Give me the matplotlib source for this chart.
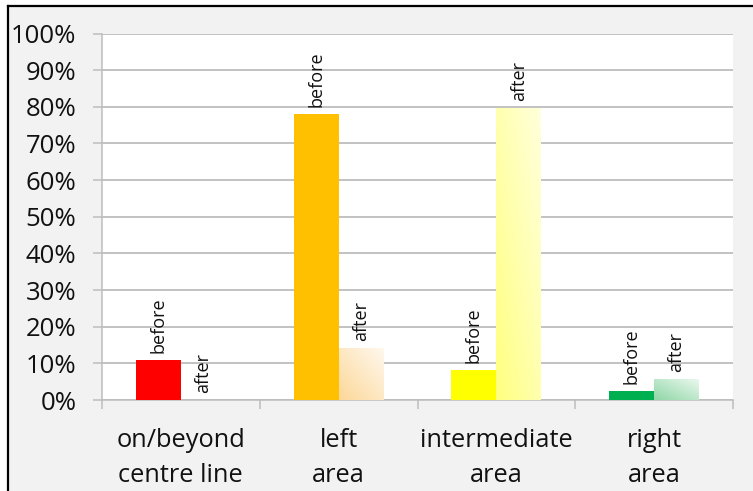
import numpy as np
import matplotlib.pyplot as plt
from matplotlib.colors import to_rgb
from matplotlib.lines import Line2D
from matplotlib.patches import Rectangle

plt.rcParams["font.family"] = ["Open Sans", "DejaVu Sans"]

categories = ["on/beyond\ncentre line", "left\narea", "intermediate\narea", "right\narea"]
before = [0.108, 0.781, 0.081, 0.025]
after = [0.0, 0.141, 0.798, 0.057]
y_ticks = [0.0, 0.1, 0.2, 0.3, 0.4, 0.5, 0.6, 0.7, 0.8, 0.9, 1.0]
y_tick_labels = ["0%", "10%", "20%", "30%", "40%", "50%", "60%", "70%", "80%", "90%", "100%"]

before_colors = ["#ff0000", "#ffc000", "#ffff00", "#00b050"]
# gradient (top-left -> bottom-right) for the "after" bars
after_colors = [("#ff8080", "#ffe0e0"), ("#fcd898", "#fff8ee"),
                ("#ffff80", "#ffffdc"), ("#8fd6a6", "#eaf8ee")]

W, H = 753, 491
fig = plt.figure(figsize=(W / 100, H / 100), dpi=100, facecolor="white")
fig.patches.append(Rectangle((8 / W, 0), 1, 1 - 6 / H, transform=fig.transFigure,
                             facecolor="#f2f2f2", edgecolor="none", zorder=-10))
fig.lines.append(Line2D([8 / W, 1], [1 - 6 / H, 1 - 6 / H], transform=fig.transFigure,
                        color="black", lw=1.6))
fig.lines.append(Line2D([8 / W, 8 / W], [0, 1 - 6 / H], transform=fig.transFigure,
                        color="black", lw=1.6))

ax = fig.add_axes([102 / W, (H - 400) / H, (733 - 102) / W, (400 - 33.5) / H])
ax.set_facecolor("white")

w = 0.285
x = np.arange(len(categories))


def gradient_bar(xc, h, c1, c2):
    if h <= 0:
        return None
    bar = ax.bar(xc, h, width=w, color="none", edgecolor="none", zorder=3)[0]
    n = 64
    gx, gy = np.meshgrid(np.linspace(0, 1, n), np.linspace(0, 1, n))
    t = (gx + gy) / 2
    a, b = np.array(to_rgb(c1)), np.array(to_rgb(c2))
    img = a[None, None, :] * (1 - t[..., None]) + b[None, None, :] * t[..., None]
    im = ax.imshow(img, extent=(xc - w / 2, xc + w / 2, h, 0), aspect="auto",
                   origin="upper", zorder=3, interpolation="bilinear")
    im.set_clip_path(bar)
    return bar


for i in range(len(categories)):
    if before[i] > 0:
        ax.bar(x[i] - w / 2, before[i], width=w, color=before_colors[i], zorder=3)
    gradient_bar(x[i] + w / 2, after[i], *after_colors[i])
    ax.annotate("before", (x[i] - w / 2, before[i]), xytext=(0, 5), textcoords="offset points",
                rotation=90, ha="center", va="bottom", fontsize=13, color="#111111")
    ax.annotate("after", (x[i] + w / 2, after[i]), xytext=(0, 5), textcoords="offset points",
                rotation=90, ha="center", va="bottom", fontsize=13, color="#111111")

ax.set_xlim(-0.5, len(categories) - 0.5)
ax.set_ylim(0, 1)

ax.set_yticks(y_ticks)
ax.set_yticklabels(y_tick_labels)
ax.yaxis.grid(True, color="#bdbdbd", lw=1.3, zorder=0)
ax.set_axisbelow(True)
ax.tick_params(axis="y", length=6.5, width=1.1, color="#bdbdbd", pad=12, labelsize=18.5,
               labelcolor="#111111")

ax.set_xticks(x)
ax.set_xticklabels(categories, linespacing=1.52)
ax.set_xticks(np.arange(-0.5, len(categories)), minor=True)
ax.tick_params(axis="x", which="major", length=0, pad=20, labelsize=18.3, labelcolor="#111111")
ax.tick_params(axis="x", which="minor", length=6.5, width=1.1, color="#bdbdbd")

for side in ["top", "right"]:
    ax.spines[side].set_visible(False)
for side in ["left", "bottom"]:
    ax.spines[side].set_color("#bdbdbd")
    ax.spines[side].set_linewidth(1.1)

fig.savefig("out.png", dpi=100)
